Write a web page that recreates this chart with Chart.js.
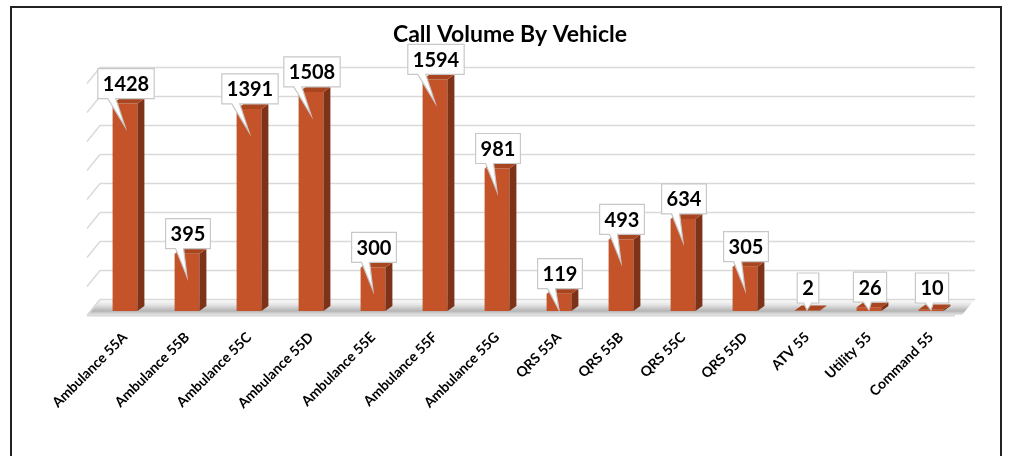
<!DOCTYPE html>
<html>
<head>
<meta charset="utf-8">
<script src="https://cdn.jsdelivr.net/npm/chart.js@4"></script>
<style>
  html, body { margin: 0; padding: 0; background: #fff; }
  #wrap { position: relative; width: 1013px; height: 456px; }
  #frame { position: absolute; left: 10px; top: 6px; width: 992px; height: 470px; border: 2px solid #222; box-sizing: border-box; pointer-events: none; }
</style>
</head>
<body>
<div id="wrap">
  <canvas id="c" width="1013" height="456"></canvas>
  <div id="frame"></div>
</div>
<script>
const categories = ['Ambulance 55A','Ambulance 55B','Ambulance 55C','Ambulance 55D','Ambulance 55E','Ambulance 55F','Ambulance 55G','QRS 55A','QRS 55B','QRS 55C','QRS 55D','ATV 55','Utility 55','Command 55'];
const callVolume = [1428, 395, 1391, 1508, 300, 1594, 981, 119, 493, 634, 305, 2, 26, 10];
const gridValues = [0, 200, 400, 600, 800, 1000, 1200, 1400, 1600];
const chartTitle = 'Call Volume By Vehicle';

const FRONT = '#C4532A', SIDE = '#7E3318', TOP = '#A9461F';
const DX = 7, DY = 5;       // bar depth
const WX = 13, WY = 12;     // wall depth

const wallPlugin = {
  id: 'wall',
  beforeDatasetsDraw(chart) {
    const ctx = chart.ctx, y = chart.scales.y, a = chart.chartArea;
    const L = a.left, R = a.right;
    const y0 = y.getPixelForValue(0);
    ctx.save();
    const back = y0 - WY, front = y0 + 4;
    const g = ctx.createLinearGradient(0, back, 0, front);
    g.addColorStop(0, '#ffffff');
    g.addColorStop(0.35, '#e6e6e6');
    g.addColorStop(0.75, '#b4b4b4');
    g.addColorStop(1, '#e8e8e8');
    ctx.fillStyle = g;
    ctx.beginPath();
    ctx.moveTo(L + 6, back); ctx.lineTo(R + WX, back);
    ctx.lineTo(R, front); ctx.lineTo(L - 7, front); ctx.closePath();
    ctx.fill();
    ctx.strokeStyle = '#d9d9d9'; ctx.lineWidth = 2;
    ctx.beginPath(); ctx.moveTo(L - 7, front + 0.5); ctx.lineTo(R - 7, front + 0.5); ctx.stroke();
    ctx.lineWidth = 1.5;
    gridValues.forEach(v => {
      const gy = Math.round(y.getPixelForValue(v) - WY) + 0.5;
      ctx.beginPath(); ctx.moveTo(L + 6, gy); ctx.lineTo(R + WX, gy); ctx.stroke();
      ctx.beginPath(); ctx.moveTo(L - 7, gy + 16); ctx.lineTo(L + 6, gy); ctx.stroke();
    });
    ctx.restore();
  },
  afterDatasetsDraw(chart) {
    const ctx = chart.ctx, meta = chart.getDatasetMeta(0);
    ctx.save();
    meta.data.forEach(el => {
      const p = el.getProps(['x', 'y', 'base', 'width'], true);
      const l = p.x - p.width / 2, r = p.x + p.width / 2, t = Math.min(p.y, p.base - 0.5), b = p.base;
      ctx.fillStyle = SIDE;
      ctx.beginPath();
      ctx.moveTo(r, t); ctx.lineTo(r + DX, t - DY); ctx.lineTo(r + DX, b - DY); ctx.lineTo(r, b); ctx.closePath(); ctx.fill();
      ctx.fillStyle = TOP;
      ctx.beginPath();
      ctx.moveTo(l, t); ctx.lineTo(l + DX, t - DY); ctx.lineTo(r + DX, t - DY); ctx.lineTo(r, t); ctx.closePath(); ctx.fill();
    });
    ctx.restore();
  }
};

const calloutPlugin = {
  id: 'callouts',
  afterDatasetsDraw(chart) {
    const ctx = chart.ctx, meta = chart.getDatasetMeta(0);
    const vals = chart.data.datasets[0].data;
    ctx.save();
    ctx.font = 'bold 20px Lato, "Open Sans", sans-serif';
    ctx.textAlign = 'center'; ctx.textBaseline = 'middle';
    meta.data.forEach((el, i) => {
      const p = el.getProps(['x', 'y', 'base'], true);
      const txt = String(vals[i]);
      const w = ctx.measureText(txt).width + 10, h = 30;
      const cx = p.x + 1;
      const top = p.y - DY;
      const bottom = Math.min(top, p.base - 8);
      const bx = cx - w / 2, by = bottom - h;
      const tipY = Math.min(p.y + 23, p.base - 1);
      const t1 = bx + Math.min(10, w * 0.3), t2 = t1 + 8;
      ctx.fillStyle = '#ffffff';
      ctx.strokeStyle = '#c8c8c8';
      ctx.lineWidth = 1.2;
      ctx.beginPath();
      ctx.moveTo(bx, by); ctx.lineTo(bx + w, by); ctx.lineTo(bx + w, by + h);
      ctx.lineTo(t2, by + h); ctx.lineTo(p.x, tipY); ctx.lineTo(t1, by + h);
      ctx.lineTo(bx, by + h); ctx.closePath();
      ctx.fill(); ctx.stroke();
      ctx.fillStyle = '#000';
      ctx.fillText(txt, cx, by + h / 2 + 1);
    });
    ctx.restore();
  }
};

new Chart(document.getElementById('c'), {
  type: 'bar',
  data: {
    labels: categories,
    datasets: [{
      data: callVolume,
      backgroundColor: FRONT,
      borderWidth: 0,
      barPercentage: 0.4,
      categoryPercentage: 1.0
    }]
  },
  options: {
    responsive: false,
    animation: false,
    layout: { padding: { left: 10, right: 3, top: 0, bottom: 0 } },
    plugins: {
      legend: { display: false },
      tooltip: { enabled: false },
      title: {
        display: true,
        text: chartTitle,
        color: '#000',
        font: { family: 'Lato, "Open Sans", sans-serif', size: 23, weight: 'bold' },
        padding: { top: 21, bottom: 30 }
      }
    },
    scales: {
      y: {
        display: true,
        min: 0, max: 1600,
        grid: { display: false, drawTicks: false },
        border: { display: false },
        ticks: { display: false },
        afterFit(scale) { scale.width = 84; }
      },
      yr: {
        display: true,
        position: 'right',
        min: 0, max: 1600,
        grid: { display: false, drawTicks: false },
        border: { display: false },
        ticks: { display: false },
        afterFit(scale) { scale.width = 48; }
      },
      x: {
        grid: { display: false, drawTicks: false },
        border: { display: false },
        ticks: {
          autoSkip: false, maxRotation: 45, minRotation: 45,
          padding: 18,
          color: '#000',
          font: { family: 'Lato, "Open Sans", sans-serif', size: 14, weight: 'bold' }
        },
        afterFit(scale) { scale.height = 145; }
      }
    }
  },
  plugins: [wallPlugin, calloutPlugin]
});
</script>
</body>
</html>
